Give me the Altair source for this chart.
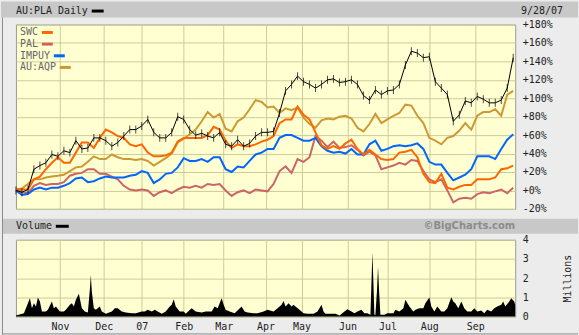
import json
import altair as alt
import pandas as pd

# ---------------- data (percent change) ----------------
day = list(range(0, 250, 3))  # trading-day index

pla = [0, -2, 1, 23, 27, 30, 39, 37, 43, 41, 54, 45, 46, 57, 57, 54, 48, 52, 59, 66, 66, 70,
       77, 63, 57, 57, 63, 80, 77, 66, 60, 62, 59, 57, 63, 50, 48, 55, 48, 51, 59, 63, 63,
       64, 84, 108, 115, 124, 118, 115, 111, 115, 120, 121, 117, 118, 120, 115, 103, 98, 109, 104, 108, 109,
       115, 136, 151, 149, 144, 145, 118, 111, 104, 75, 82, 97, 95, 102, 99, 95, 95, 98, 111, 144]

swc = [1, 1, 1, 12, 15, 23, 30, 36, 30, 30, 41, 52, 52, 46, 57, 66, 63, 59, 57, 50, 48, 50,
       41, 37, 37, 38, 41, 53, 57, 57, 57, 57, 60, 69, 66, 54, 46, 50, 48, 48, 50, 53, 55,
       59, 73, 77, 77, 91, 82, 77, 63, 49, 45, 48, 45, 51, 55, 45, 39, 44, 39, 34, 33, 34,
       41, 42, 44, 36, 18, 9, 8, 18, 3, 1, 4, 6, 6, 12, 12, 12, 14, 23, 24, 27]

pal = [1, -2, -3, 5, 8, 6, 7, 7, 9, 16, 18, 19, 23, 23, 18, 18, 15, 12, 5, 1, 0, 1,
       0, -6, -2, 0, -3, 1, 4, 3, 5, 3, 7, 6, 7, 0, -6, -2, 0, -3, 1, 0, -1,
       7, 21, 26, 19, 34, 31, 36, 59, 54, 47, 53, 46, 47, 49, 44, 38, 42, 38, 23, 25, 27,
       30, 28, 33, 32, 21, 12, 9, 12, 0, -13, -9, -8, -9, -4, -2, -3, -1, 1, -3, 3]

impuy = [0, -5, -4, 1, 3, 1, 3, 3, 5, 8, 13, 14, 9, 10, 13, 15, 14, 14, 14, 16, 17, 21,
         19, 8, 12, 18, 19, 25, 35, 32, 32, 34, 31, 36, 36, 23, 20, 26, 25, 32, 39, 41, 45,
         45, 57, 60, 60, 57, 54, 54, 57, 48, 43, 41, 42, 40, 45, 39, 39, 50, 54, 43, 45, 48,
         49, 48, 49, 51, 45, 31, 28, 28, 19, 11, 14, 17, 23, 37, 37, 37, 34, 45, 55, 61]

aqp = [1, 2, 7, 12, 12, 14, 15, 16, 17, 21, 25, 26, 31, 37, 34, 34, 39, 36, 34, 34, 33, 34,
       32, 27, 31, 35, 40, 52, 56, 61, 66, 75, 85, 79, 83, 67, 64, 75, 79, 88, 98, 96, 90,
       91, 84, 89, 87, 90, 79, 72, 68, 76, 78, 77, 80, 81, 78, 68, 64, 72, 83, 73, 77, 81,
       84, 93, 92, 81, 73, 57, 54, 50, 57, 59, 65, 73, 66, 81, 85, 85, 88, 81, 104, 108]

# volume, millions of shares
vol_day = [0, 4, 5, 7, 8, 9, 10, 11, 12, 13, 15, 16, 18, 19, 20, 22, 24, 25, 27, 28, 29, 30, 31.5, 33,
           34.5, 36, 37, 37.5, 38, 39, 40, 42, 43, 45, 48, 49.5, 51, 53, 55, 58, 60, 63, 64.5, 66, 68,
           69.5, 71, 73, 75, 77, 78, 79, 80, 82, 84, 85, 88, 90, 93, 95, 98, 99.5, 101, 103, 104, 105,
           107, 109.5, 113, 114.5, 116, 119, 121, 124, 126, 129, 131, 133, 134, 135, 136.5, 138, 139,
           140, 142, 144, 146, 149, 151, 153, 154, 155, 158, 160, 162, 164.5, 166, 168, 169.5, 171,
           173, 174.5, 176, 177.5, 178, 178.5, 179, 179.5, 180, 180.8, 181.3, 181.8, 182.5, 184.5,
           186, 189, 190, 192, 194, 195, 197, 199, 200, 202, 204, 205, 207, 208, 209.5, 211, 213,
           214.5, 216, 218, 219, 220, 221.5, 223, 224.5, 226, 228, 229.5, 231, 233, 234.5, 236, 238,
           239.5, 241, 243, 244, 245, 247, 248, 249.5, 250]
vol_m = [0.05, 0.17, 0.43, 0.95, 0.43, 0.69, 0.52, 0.99, 0.78, 0.26, 0.26, 0.35, 0.78, 0.43, 0.52,
         0.26, 0.26, 0.35, 0.61, 0.69, 0.52, 0.87, 1.18, 0.43,
         0.26, 0.21, 1.39, 2.16, 1.30, 0.43, 0.35, 0.52, 0.26, 0.14, 0.26, 0.43, 0.43, 0.26, 0.21,
         0.17, 0.17, 0.26, 0.26, 0.35, 0.26,
         0.35, 0.26, 0.14, 0.26, 0.52, 0.61, 0.90, 0.52, 0.26, 0.26, 0.14, 0.43, 0.26, 0.21, 0.26,
         0.26, 0.52, 0.43, 0.95, 0.61, 0.35,
         0.26, 0.17, 0.52, 0.26, 0.21, 0.17, 0.17, 0.26, 0.35, 0.26, 0.43, 0.61, 0.81, 0.52, 0.69,
         0.52, 0.61,
         0.52, 0.35, 0.17, 0.14, 0.14, 0.26, 0.61, 0.26, 0.14, 0.14, 0.14, 0.05, 0.26, 0.38, 0.26,
         0.17, 0.26,
         0.35, 0.17, 0.17, 0.09, 1.73, 3.33, 1.73, 0.09, 0.09, 1.39, 2.60, 1.39, 0.09, 0.09,
         0.17, 0.17, 0.35, 0.26, 0.43, 0.87, 0.52, 0.26, 0.35, 0.43, 0.43, 0.69, 0.99, 0.52, 0.26,
         0.52, 0.26,
         0.26, 0.43, 1.00, 0.78, 0.69, 0.43, 0.78, 0.43, 0.26, 0.26, 0.43, 0.26, 0.31, 0.17, 0.35,
         0.26,
         0.43, 0.52, 0.61, 0.78, 0.52, 0.78, 0.95, 0.78, 0.61]

series_names = ["SWC", "PAL", "IMPUY", "AU:AQP"]
series_colors = ["#ff6600", "#cc6666", "#0066ff", "#cc9933"]
month_pos = [22, 44, 63, 84, 104, 125, 143, 166, 186, 207, 230]
month_lbl = ["Nov", "Dec", "07", "Feb", "Mar", "Apr", "May", "Jun", "Jul", "Aug", "Sep"]
pct_ticks = list(range(-20, 181, 20))
vol_ticks = [0, 1, 2, 3, 4]

# ---------------- styling ----------------
W, H1, H2 = 501, 185, 77
MONO = "DejaVu Sans Mono"
GRID = "#cccc99"
PLOTBG = "#ffffd2"
BG = "#ececec"
BAR = "#c8c8c8"

one = pd.DataFrame({"k": [0]})

xscale = alt.Scale(domain=[0, 250], nice=False, zero=False)

# ---------------- main panel ----------------
vals = {"SWC": swc, "PAL": pal, "IMPUY": impuy, "AU:AQP": aqp, "AU:PLA": pla}
rows = []
for name, vs in vals.items():
    for d, v in zip(day, vs):
        rows.append({"day": d, "series": name, "pct": v})
df = pd.DataFrame(rows)

x_main = alt.X("day:Q", scale=xscale,
               axis=alt.Axis(values=month_pos, grid=True, labels=False, ticks=False,
                             domain=False, title=None, gridColor=GRID, gridOpacity=1))
y_main = alt.Y("pct:Q", scale=alt.Scale(domain=[-20, 180], nice=False, zero=False),
               axis=alt.Axis(orient="right", values=pct_ticks, grid=True, ticks=False,
                             domain=False, title=None, gridColor=GRID, gridOpacity=1,
                             labelExpr="(datum.value >= 0 ? '+' : '') + datum.value + '%'",
                             labelPadding=7, labelFont=MONO, labelFontSize=10,
                             labelColor="#222222", labelFlush=False, labelOverlap=False,
                             labelAlign="left", labelBaseline="middle"))

draw_order = ["AU:AQP", "PAL", "IMPUY", "SWC"]
layers1 = []
for name in draw_order:
    col = series_colors[series_names.index(name)]
    layers1.append(
        alt.Chart(df).transform_filter(alt.datum.series == name)
        .mark_line(color=col, strokeWidth=2, interpolate="linear")
        .encode(x=x_main, y=y_main)
    )
pla_base = alt.Chart(df).transform_filter(alt.datum.series == "AU:PLA")
layers1.append(pla_base.mark_line(color="black", strokeWidth=1, interpolate="linear")
               .encode(x=x_main, y=y_main))
layers1.append(pla_base.mark_tick(color="black", orient="vertical", size=8, thickness=1)
               .encode(x=x_main, y=y_main))

# in-plot legend
for i, (name, col) in enumerate(zip(series_names, series_colors)):
    yy = 8 + 11.7 * i
    layers1.append(alt.Chart(one).mark_text(align="left", baseline="middle", font=MONO,
                                            fontSize=10, color="#666666", text=name)
                   .encode(x=alt.value(4), y=alt.value(yy)))
    sx = 4 + 6 * len(name) + 4
    layers1.append(alt.Chart(one).mark_rect(color=col)
                   .encode(x=alt.value(sx), x2=alt.value(sx + 11),
                           y=alt.value(yy - 1.5), y2=alt.value(yy + 1.5)))

# header bar
layers1.append(alt.Chart(one).mark_rect(color=BAR)
               .encode(x=alt.value(-15), x2=alt.value(564), y=alt.value(-23), y2=alt.value(-7)))
layers1.append(alt.Chart(one).mark_text(align="left", baseline="middle", font=MONO, fontSize=10,
                                        color="#222222", text="AU:PLA Daily")
               .encode(x=alt.value(0), y=alt.value(-13.5)))
layers1.append(alt.Chart(one).mark_rect(color="black")
               .encode(x=alt.value(76), x2=alt.value(88), y=alt.value(-15), y2=alt.value(-12)))
layers1.append(alt.Chart(one).mark_text(align="right", baseline="middle", font=MONO, fontSize=10,
                                        color="#222222", text="9/28/07")
               .encode(x=alt.value(549), y=alt.value(-13.5)))
# outer frame (left and bottom)
layers1.append(alt.Chart(one).mark_rule(color="#8a8a8a", strokeWidth=1)
               .encode(x=alt.value(-13.5), y=alt.value(-7), y2=alt.value(311)))
layers1.append(alt.Chart(one).mark_rule(color="#8a8a8a", strokeWidth=1)
               .encode(x=alt.value(-14), x2=alt.value(564), y=alt.value(310.5)))

chart1 = alt.layer(*layers1).properties(width=W, height=H1)

# ---------------- volume panel ----------------
vol_df = pd.DataFrame({"day": vol_day, "vol": vol_m})
month_expr = "%s[indexof(%s, datum.value)]" % (json.dumps(month_lbl).replace('"', "'"),
                                               json.dumps(month_pos))
x_vol = alt.X("day:Q", scale=xscale,
              axis=alt.Axis(values=month_pos, grid=True, ticks=False, domain=False, title=None,
                            gridColor=GRID, gridOpacity=1, labelExpr=month_expr,
                            labelFont=MONO, labelFontSize=10, labelColor="#222222",
                            labelPadding=5, labelFlush=False, labelOverlap=False))
y_vol = alt.Y("vol:Q", scale=alt.Scale(domain=[0, 4], nice=False, zero=True),
              axis=alt.Axis(orient="right", values=vol_ticks, grid=True, ticks=False, domain=False,
                            gridColor=GRID, gridOpacity=1, labelPadding=7, labelFont=MONO,
                            labelFontSize=10, labelColor="#222222", labelFlush=False,
                            labelOverlap=False, labelAlign="left", labelBaseline="middle",
                            title="Millions", titleAngle=270, titleX=52, titleY=38.5,
                            titleAlign="center", titleBaseline="middle", titleFont=MONO,
                            titleFontSize=10, titleFontWeight="normal", titleColor="#222222"))

layers2 = [
    alt.Chart(vol_df).mark_area(color="black", interpolate="linear").encode(x=x_vol, y=y_vol),
    alt.Chart(one).mark_rect(color=BAR)
    .encode(x=alt.value(-13), x2=alt.value(564), y=alt.value(-21), y2=alt.value(-6)),
    alt.Chart(one).mark_text(align="left", baseline="middle", font=MONO, fontSize=10,
                             color="#222222", text="Volume")
    .encode(x=alt.value(0), y=alt.value(-13.5)),
    alt.Chart(one).mark_rect(color="black")
    .encode(x=alt.value(40), x2=alt.value(53), y=alt.value(-15), y2=alt.value(-12)),
    alt.Chart(one).mark_text(align="right", baseline="middle", font="DejaVu Sans", fontSize=10,
                             fontWeight="bold", color="#8c8c8c", text="\u00a9BigCharts.com")
    .encode(x=alt.value(501), y=alt.value(-13.5)),
]
chart2 = alt.layer(*layers2).properties(width=W, height=H2)

chart = (
    alt.vconcat(chart1, chart2, spacing=31, bounds="flush")
    .properties(padding={"left": 0, "top": 0, "right": 0, "bottom": 0})
    .configure(background=BG)
    .configure_view(fill=PLOTBG, stroke="#999999", strokeWidth=1)
)

chart.save("out.html", embed_options={"renderer": "svg", "actions": False})
